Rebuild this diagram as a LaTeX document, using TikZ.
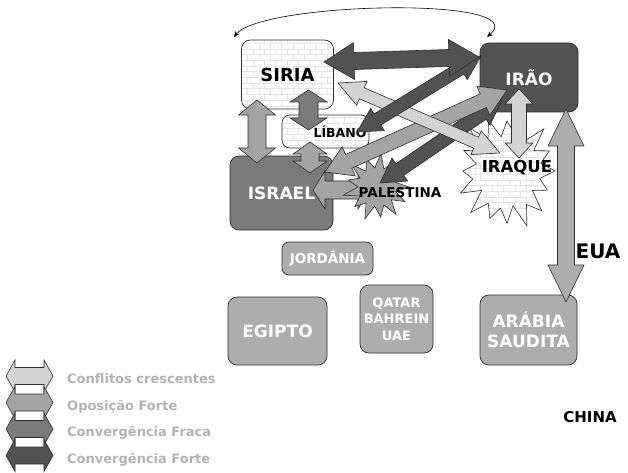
\documentclass[tikz,border=0pt]{standalone}
\usepackage{fontspec}
\setmainfont{DejaVu Sans}
\usetikzlibrary{calc,patterns,arrows.meta}

\definecolor{darkg}{HTML}{525252}
\definecolor{midg}{HTML}{7A7A7A}
\definecolor{oppg}{HTML}{A4A4A4}
\definecolor{lightg}{HTML}{D3D3D3}
\definecolor{boxg}{HTML}{ADADAD}
\definecolor{legtxt}{HTML}{B2B2B2}
\definecolor{edge}{HTML}{2E2E2E}

% double block arrow: [style]{from}{to}{head length}{head half width}{shaft half width}
\newcommand{\dblarrow}[6][]{%
  \path let \p1=($(#3)-(#2)$) in \pgfextra{%
    \pgfmathsetmacro{\arrang}{atan2(\y1,\x1)}%
    \pgfmathsetmacro{\arrlen}{veclen(\x1,\y1)}%
    \xdef\arrang{\arrang}\xdef\arrlen{\arrlen}};
  \draw[blockarrow,#1,shift={(#2)},rotate=\arrang]
    (0pt,0pt) -- (#4pt,#5pt) -- (#4pt,#6pt) -- ({\arrlen pt-#4pt},#6pt)
    -- ({\arrlen pt-#4pt},#5pt) -- (\arrlen pt,0pt) -- ({\arrlen pt-#4pt},-#5pt)
    -- ({\arrlen pt-#4pt},-#6pt) -- (#4pt,-#6pt) -- (#4pt,-#5pt) -- cycle;
}

\begin{document}
\begin{tikzpicture}[x=1pt, y=-1pt,
	country/.style={draw=edge, line width=0.7pt, rounded corners=9pt, inner sep=0pt},
	patfill/.style={preaction={fill=white}, pattern=bricks, pattern color=gray!20},
	blockarrow/.style={draw=edge, line width=0.6pt, line join=miter},
	burst/.style={draw=edge, line width=0.6pt, line join=miter},
	lbl/.style={font=\bfseries\fontsize{#1}{#1}\selectfont, inner sep=0pt},
	legtext/.style={font=\bfseries\fontsize{13}{13}\selectfont, text=legtxt, inner sep=0pt, anchor=base west},
	]

	\useasboundingbox (0,0) rectangle (628,473);

	% loop arrow over the top
	\coordinate (loop-w) at (234,37);
	\coordinate (loop-e) at (487,37);
	\draw[{Stealth[length=6pt,width=5pt]}-{Stealth[length=6pt,width=5pt]}, line width=0.6pt]
		(loop-w) .. controls (262,2) and (535,-4) .. (loop-e);

	% countries
	\node[country, patfill, minimum width=92, minimum height=69, lbl=18] (siria) at (287.5,74.5) {SIRIA};
	\node[country, patfill, rounded corners=8pt, minimum width=87, minimum height=33] (libano) at (325.5,131.5) {};
	\node[country, fill=midg, text=white, minimum width=103, minimum height=74, lbl=17] (israel) at (281.5,193) {ISRAEL};
	\node[country, fill=darkg, text=white, minimum width=98, minimum height=69, lbl=17] (irao) at (529,77.5) {IRÃO};
	\node[country, fill=boxg, text=white, rounded corners=7pt, minimum width=91, minimum height=33, lbl=13.5] (jordania) at (327.5,258.5) {JORDÂNIA};
	\node[country, fill=boxg, text=white, minimum width=99, minimum height=68, lbl=17] (egipto) at (277.5,331) {EGIPTO};
	\node[country, fill=boxg, text=white, minimum width=73, minimum height=68, lbl=13, align=center] (golfo) at (396.5,319) {QATAR\\[3.5pt]BAHREIN\\[3.5pt]UAE};
	\node[country, fill=boxg, text=white, minimum width=97, minimum height=70, lbl=17, align=center] (arabia) at (528.5,330) {ARÁBIA\\[3pt]SAUDITA};

	% iraque
	\coordinate (iraque) at (507,171);
	\begin{scope}[shift={(iraque)}, x=48pt, y=-55pt]
		\draw[burst, patfill] (0:1) \foreach \i in {1,...,31} {
			-- ({\i*360/32}:{mod(\i,2)==0 ? 1+0.09*sin(\i*131) : 0.68+0.05*cos(\i*71)})
		} -- cycle;
	\end{scope}

	% arrows round siria, libano and israel
	\coordinate (sy-a) at (257,100);   \coordinate (is-a) at (257,163);
	\coordinate (sy-b) at (308.5,90);  \coordinate (lb-b) at (308.5,130);
	\coordinate (lb-c) at (310,142);   \coordinate (is-c) at (310,173);
	\coordinate (is-d) at (313,190);   \coordinate (pl-d) at (370,190);
	\dblarrow[fill=oppg]{sy-a}{is-a}{15}{18.5}{9}
	\dblarrow[fill=midg]{sy-b}{lb-b}{12}{18.5}{9.5}
	\dblarrow[fill=oppg]{lb-c}{is-c}{12}{17}{9}
	\dblarrow[fill=oppg]{is-d}{pl-d}{12}{19}{9}
	\node[lbl=12.5] (libano-txt) at (340,132) {LÍBANO};

	% palestina
	\coordinate (palestina) at (377,187);
	\begin{scope}[shift={(palestina)}, x=32pt, y=-32pt]
		\draw[burst, fill=oppg] (0:1) \foreach \i in {1,...,25} {
			-- ({\i*360/26}:{mod(\i,2)==0 ? 1+0.08*sin(\i*97) : 0.6})
		} -- cycle;
	\end{scope}

	% eua and irao-iraque
	\coordinate (ir-e) at (566,109);   \coordinate (sa-e) at (566,302);
	\coordinate (ir-f) at (519,89);    \coordinate (iq-f) at (519,158);
	\dblarrow[fill=boxg]{ir-e}{sa-e}{37}{18}{8.5}
	\dblarrow[fill=lightg]{ir-f}{iq-f}{15}{14}{7.5}

	% diagonals
	\coordinate (pl-g) at (380,183);   \coordinate (ir-g) at (502,100);
	\coordinate (is-h) at (325,172);   \coordinate (ir-h) at (507,90);
	\coordinate (sy-i) at (338,83);    \coordinate (iq-i) at (500,153);
	\coordinate (lb-j) at (357,132);   \coordinate (ir-j) at (481,56);
	\coordinate (sy-k) at (324,62);    \coordinate (ir-k) at (479,57);
	\dblarrow[fill=darkg]{pl-g}{ir-g}{24}{14}{7}
	\dblarrow[fill=oppg]{is-h}{ir-h}{26}{16}{7.5}
	\dblarrow[fill=lightg]{sy-i}{iq-i}{26}{13}{6}
	\dblarrow[fill=darkg]{lb-j}{ir-j}{24}{13}{6.5}
	\dblarrow[fill=darkg]{sy-k}{ir-k}{30}{18.5}{8.5}

	\node[lbl=13.5] (palestina-txt) at (400,193) {PALESTINA};
	\node[lbl=16.5] (iraque-txt) at (517,168) {IRAQUE};
	\node[lbl=20] (eua) at (598,251) {EUA};
	\node[lbl=15] (china) at (590,417) {CHINA};

	% legend
	\coordinate (leg1-w) at (6,376);   \coordinate (leg1-e) at (53,376);
	\coordinate (leg2-w) at (6,402.5); \coordinate (leg2-e) at (53,402.5);
	\coordinate (leg3-w) at (6,429);   \coordinate (leg3-e) at (53,429);
	\coordinate (leg4-w) at (6,455.5); \coordinate (leg4-e) at (53,455.5);
	\dblarrow[fill=lightg]{leg1-w}{leg1-e}{9}{16}{8.5}
	\dblarrow[fill=oppg]{leg2-w}{leg2-e}{9}{16}{8.5}
	\dblarrow[fill=midg]{leg3-w}{leg3-e}{9}{16}{8.5}
	\dblarrow[fill=darkg]{leg4-w}{leg4-e}{9}{16}{8.5}
	\node[legtext] (leg1) at (67,383) {Conflitos crescentes};
	\node[legtext] (leg2) at (67,410) {Oposição Forte};
	\node[legtext] (leg3) at (67,436) {Convergência Fraca};
	\node[legtext] (leg4) at (67,463) {Convergência Forte};

\end{tikzpicture}
\end{document}
